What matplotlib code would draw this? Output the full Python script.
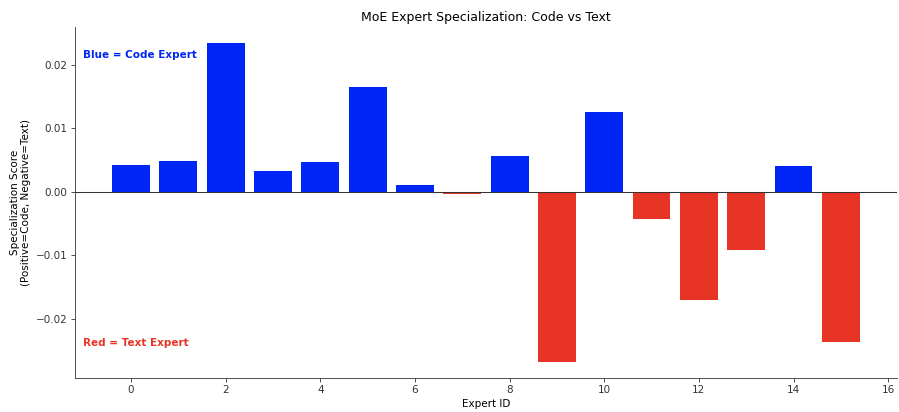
import numpy as np
import matplotlib
matplotlib.use("Agg")
import matplotlib.pyplot as plt

experts = list(range(16))
scores = [0.0042, 0.0049, 0.0234, 0.0033, 0.0047, 0.0165, 0.0010, -0.0003,
          0.0057, -0.0268, 0.0126, -0.0043, -0.0170, -0.0092, 0.0041, -0.0237]

blue = "#0026F5"
red = "#E83424"
colors = [blue if s > 0 else red for s in scores]

# rendered at 75 dpi so fonts come out at the reference's size
fig, ax = plt.subplots(figsize=(899 / 75, 412 / 75), dpi=75)
ax.bar(experts, scores, color=colors)
ax.axhline(0, color="#333333", linewidth=1)

ax.set_title("MoE Expert Specialization: Code vs Text")
ax.set_xlabel("Expert ID")
ax.set_ylabel("Specialization Score\n(Positive=Code, Negative=Text)")

ax.text(0.01, 0.935, "Blue = Code Expert", transform=ax.transAxes,
        color=blue, fontweight="bold", va="top", ha="left")
ax.text(0.01, 0.1, "Red = Text Expert", transform=ax.transAxes,
        color=red, fontweight="bold", va="center", ha="left")

for side in ["top", "right"]:
    ax.spines[side].set_visible(False)
for side in ["left", "bottom"]:
    ax.spines[side].set_color("#333333")
ax.tick_params(colors="#333333")

plt.subplots_adjust(left=0.083, right=0.998, top=0.934, bottom=0.083)
plt.savefig("out.png")
